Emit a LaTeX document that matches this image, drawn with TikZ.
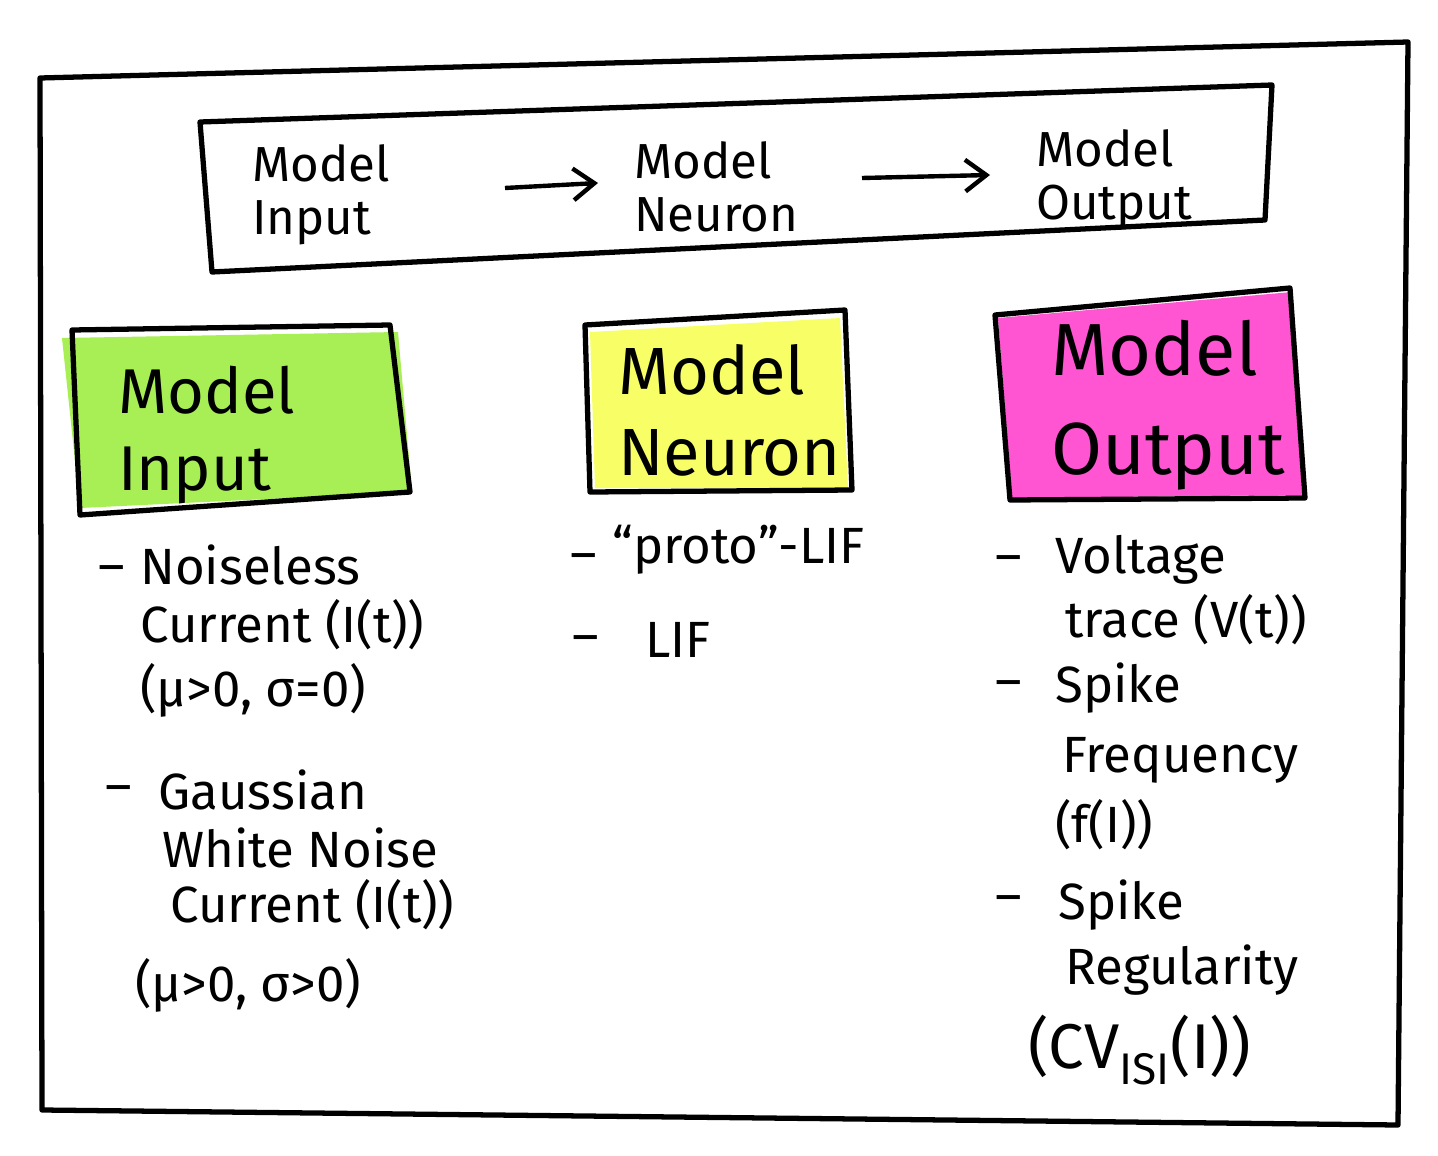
\documentclass[tikz,border=0pt]{standalone}
\usepackage{fontspec}
\setmainfont{Fira Sans}
\usetikzlibrary{arrows.meta}
\definecolor{ingreen}{HTML}{A8EE55}
\definecolor{neuyellow}{HTML}{F8FF66}
\definecolor{outmag}{HTML}{FF55D2}
\tikzset{
  frame/.style={draw=black, line width=3pt, line join=round},
  toptxt/.style={font=\fontsize{28}{30}\selectfont, align=left, anchor=west},
  headtxt/.style={font=\fontsize{36}{44}\selectfont, align=left, anchor=west},
  itemtxt/.style={font=\fontsize{29}{32}\selectfont, anchor=west, inner sep=0pt},
  dashtxt/.style={font=\fontsize{29}{32}\selectfont, anchor=west, inner sep=0pt},
  flow/.style={draw=black, line width=2.5pt, -{Straight Barb[length=12pt,width=18pt,line width=2.5pt]}},
}
\begin{document}
\begin{tikzpicture}[x=0.02cm,y=-0.02cm]
\useasboundingbox[fill=white] (0,0) rectangle (1438,1156);
% outer frame
\draw[frame] (40,78) -- (1408,42) -- (1398,1125) -- (42,1110) -- cycle;
% top box
\draw[frame] (200,122) -- (1272,85) -- (1265,220) -- (212,272) -- cycle;
\node[toptxt] (tin) at (246,195) {Model\\Input};
\node[toptxt] (tneu) at (628,187) {Model\\Neuron};
\node[toptxt] (tout) at (1030,180) {Model\\Output};
\coordinate (a1s) at (505,188);
\coordinate (a1e) at (598,183);
\coordinate (a2s) at (862,178);
\coordinate (a2e) at (990,175);
\draw[flow] (a1s) -- (a1e);
\draw[flow] (a2s) -- (a2e);
% colored boxes
\fill[ingreen] (62,338) -- (398,332) -- (412,492) -- (80,508) -- cycle;
\draw[frame] (72,330) -- (390,325) -- (410,492) -- (80,515) -- cycle;
\node[headtxt] (hin) at (112,435) {Model\\Input};
\fill[neuyellow] (590,332) -- (840,318) -- (848,488) -- (595,488) -- cycle;
\draw[frame] (585,325) -- (845,310) -- (852,490) -- (590,492) -- cycle;
\node[headtxt, font=\fontsize{38}{46}\selectfont] (hneu) at (612,410) {Model\\Neuron};
\fill[outmag] (998,318) -- (1292,292) -- (1302,495) -- (1012,498) -- cycle;
\draw[frame] (995,315) -- (1290,288) -- (1305,498) -- (1010,500) -- cycle;
\node[headtxt, font=\fontsize{42}{56}\selectfont] (hout) at (1045,405) {Model\\Output};
% left list
\node[dashtxt] (d1) at (98,575) {–};
\node[itemtxt] (l1) at (140,565) {Noiseless};
\node[itemtxt] (l2) at (140,625) {Current (I(t))};
\node[itemtxt] (l3) at (140,690) {(μ>0, σ=0)};
\node[dashtxt] (d2) at (105,795) {–};
\node[itemtxt] (l4) at (158,790) {Gaussian};
\node[itemtxt] (l5) at (162,848) {White Noise};
\node[itemtxt] (l6) at (170,905) {Current (I(t))};
\node[itemtxt] (l7) at (135,985) {(μ>0, σ>0)};
% middle list
\node[dashtxt] (d3) at (570,563) {–};
\node[itemtxt] (m1) at (612,550) {“proto”-LIF};
\node[dashtxt] (d4) at (572,645) {–};
\node[itemtxt] (m2) at (645,640) {LIF};
% right list
\node[dashtxt] (d5) at (995,565) {–};
\node[itemtxt] (r1) at (1055,560) {Voltage};
\node[itemtxt] (r2) at (1065,620) {trace (V(t))};
\node[dashtxt] (d6) at (995,690) {–};
\node[itemtxt] (r3) at (1055,688) {Spike};
\node[itemtxt] (r4) at (1062,760) {Frequency};
\node[itemtxt] (r5) at (1055,825) {(f(I))};
\node[dashtxt] (d7) at (995,905) {–};
\node[itemtxt] (r6) at (1058,905) {Spike};
\node[itemtxt] (r7) at (1065,970) {Regularity};
\node[itemtxt, font=\fontsize{36}{40}\selectfont] (r8) at (1028,1050) {(CV\textsubscript{ISI}(I))};
\end{tikzpicture}
\end{document}
